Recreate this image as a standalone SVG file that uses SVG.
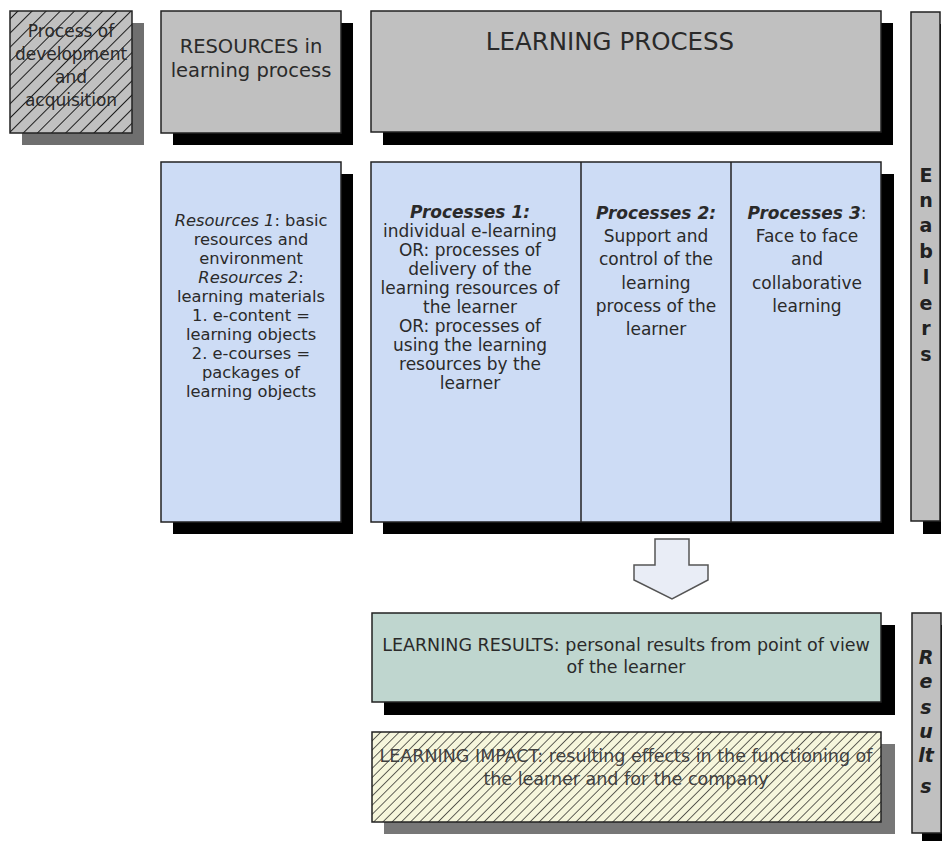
<svg xmlns="http://www.w3.org/2000/svg" width="944" height="841" viewBox="0 0 944 841">
  <style>
    .box { stroke: #222; stroke-width: 1.5; }
    .gray { fill: #c0c0c0; }
    .blue { fill: #cddcf5; }
    .green { fill: #bfd6cf; }
    .shadow { fill: #000; }
    .shadow-gray { fill: #6f6f6f; }
    text { font-family: "DejaVu Sans", "Liberation Sans", sans-serif; fill: #2a2a2a; text-anchor: middle; }
    .t165 { font-size: 16.3px; }
    .t17 { font-size: 17px; }
    .t175 { font-size: 17.5px; }
    .hdr { font-size: 19.5px; }
    .big { font-size: 24.5px; }
    .it { font-style: italic; }
    .bi { font-style: italic; font-weight: bold; }
    .side { font-size: 19px; font-weight: bold; fill: #222; }
    .hatchtext { fill: #404040; }
  </style>
  <defs>
    <pattern id="hatchWide" patternUnits="userSpaceOnUse" width="10" height="10" patternTransform="rotate(45)">
      <line x1="0" y1="0" x2="0" y2="10" stroke="#000" stroke-width="1.7"/>
    </pattern>
    <pattern id="hatchFine" patternUnits="userSpaceOnUse" width="6.5" height="10" patternTransform="rotate(45)">
      <line x1="0" y1="0" x2="0" y2="10" stroke="#111" stroke-width="1.3"/>
    </pattern>
  </defs>

  <rect width="944" height="841" fill="#fff"/>

  <!-- Process of development and acquisition -->
  <g id="node-development">
    <rect class="shadow-gray" x="22" y="23" width="122" height="122"/>
    <rect class="gray" x="10" y="11" width="122" height="122"/>
    <rect x="10" y="11" width="122" height="122" fill="url(#hatchWide)"/>
    <rect class="box" x="10" y="11" width="122" height="122" fill="none"/>
    <text class="t17" x="71" y="37">Process of</text>
    <text class="t17" x="71" y="60">development</text>
    <text class="t17" x="71" y="83">and</text>
    <text class="t17" x="71" y="106">acquisition</text>
  </g>

  <!-- RESOURCES header -->
  <g id="node-resources-header">
    <rect class="shadow" x="173" y="23" width="180" height="122"/>
    <rect class="box gray" x="161" y="11" width="180" height="122"/>
    <text class="hdr" x="251" y="53">RESOURCES in</text>
    <text class="hdr" x="251" y="77">learning process</text>
  </g>

  <!-- LEARNING PROCESS header -->
  <g id="node-learning-process">
    <rect class="shadow" x="383" y="23" width="510" height="122"/>
    <rect class="box gray" x="371" y="11" width="510" height="121"/>
    <text class="big" x="610" y="50">LEARNING PROCESS</text>
  </g>

  <!-- Enablers -->
  <g id="node-enablers">
    <rect class="shadow" x="923" y="24" width="18" height="510"/>
    <rect class="box gray" x="911" y="12" width="29" height="509"/>
    <text class="side" x="926" y="182">E</text>
    <text class="side" x="926" y="207">n</text>
    <text class="side" x="926" y="232">a</text>
    <text class="side" x="926" y="258">b</text>
    <text class="side" x="926" y="284">l</text>
    <text class="side" x="926" y="310">e</text>
    <text class="side" x="926" y="335">r</text>
    <text class="side" x="926" y="361">s</text>
  </g>

  <!-- Resources column -->
  <g id="node-resources">
    <rect class="shadow" x="173" y="174" width="180" height="360"/>
    <rect class="box blue" x="161" y="162" width="180" height="360"/>
    <text class="t165" x="251" y="226"><tspan class="it">Resources 1</tspan>: basic</text>
    <text class="t165" x="251" y="245">resources and</text>
    <text class="t165" x="251" y="264">environment</text>
    <text class="t165" x="251" y="283"><tspan class="it">Resources 2</tspan>:</text>
    <text class="t165" x="251" y="302">learning materials</text>
    <text class="t165" x="251" y="321">1. e-content =</text>
    <text class="t165" x="251" y="340">learning objects</text>
    <text class="t165" x="251" y="359">2. e-courses =</text>
    <text class="t165" x="251" y="378">packages of</text>
    <text class="t165" x="251" y="397">learning objects</text>
  </g>

  <!-- Processes block -->
  <g id="node-processes">
    <rect class="shadow" x="383" y="174" width="511" height="360"/>
    <rect class="box blue" x="371" y="162" width="510" height="360"/>
    <line class="box" x1="581" y1="162" x2="581" y2="522"/>
    <line class="box" x1="731" y1="162" x2="731" y2="522"/>
  </g>
  <g id="node-processes-1">
    <text class="t17 bi" x="470" y="218">Processes 1:</text>
    <text class="t17" x="470" y="237">individual e-learning</text>
    <text class="t17" x="470" y="256">OR: processes of</text>
    <text class="t17" x="470" y="275">delivery of the</text>
    <text class="t17" x="470" y="294">learning resources of</text>
    <text class="t17" x="470" y="313">the learner</text>
    <text class="t17" x="470" y="332">OR: processes of</text>
    <text class="t17" x="470" y="351">using the learning</text>
    <text class="t17" x="470" y="370">resources by the</text>
    <text class="t17" x="470" y="389">learner</text>
  </g>
  <g id="node-processes-2">
    <text class="t17 bi" x="656" y="219">Processes 2:</text>
    <text class="t17" x="656" y="242">Support and</text>
    <text class="t17" x="656" y="265">control of the</text>
    <text class="t17" x="656" y="289">learning</text>
    <text class="t17" x="656" y="312">process of the</text>
    <text class="t17" x="656" y="335">learner</text>
  </g>
  <g id="node-processes-3">
    <text class="t17" x="807" y="219"><tspan class="bi">Processes 3</tspan>:</text>
    <text class="t17" x="807" y="242">Face to face</text>
    <text class="t17" x="807" y="265">and</text>
    <text class="t17" x="807" y="289">collaborative</text>
    <text class="t17" x="807" y="312">learning</text>
  </g>

  <!-- Connector: block arrow -->
  <g id="connectors">
    <path d="M655,539 L689,539 L689,565 L708,565 L708,580 L672,599 L634,580 L634,565 L655,565 Z" fill="#e9edf6" stroke="#555" stroke-width="1.5" stroke-linejoin="miter"/>
  </g>

  <!-- Learning results -->
  <g id="node-learning-results">
    <rect class="shadow" x="384" y="625" width="511" height="90"/>
    <rect class="box green" x="372" y="613" width="509" height="89"/>
    <text class="t175" x="626" y="651">LEARNING RESULTS: personal results from point of view</text>
    <text class="t175" x="626" y="673">of the learner</text>
  </g>

  <!-- Learning impact -->
  <g id="node-learning-impact">
    <rect fill="#777" x="384" y="744" width="511" height="90"/>
    <rect fill="#f6f6dc" x="372" y="732" width="509" height="90"/>
    <rect x="372" y="732" width="509" height="90" fill="url(#hatchFine)"/>
    <rect class="box" x="372" y="732" width="509" height="90" fill="none"/>
    <text class="t175 hatchtext" x="626" y="762">LEARNING IMPACT: resulting effects in the functioning of</text>
    <text class="t175 hatchtext" x="626" y="785">the learner and for the company</text>
  </g>

  <!-- Results label -->
  <g id="node-results">
    <rect class="shadow" x="922" y="625" width="20" height="216"/>
    <rect class="box gray" x="912" y="613" width="29" height="220"/>
    <text class="side it" x="926" y="664">R</text>
    <text class="side it" x="926" y="688">e</text>
    <text class="side it" x="926" y="714">s</text>
    <text class="side it" x="926" y="738">u</text>
    <text class="side it" x="926" y="762">lt</text>
    <text class="side it" x="926" y="793">s</text>
  </g>
</svg>
